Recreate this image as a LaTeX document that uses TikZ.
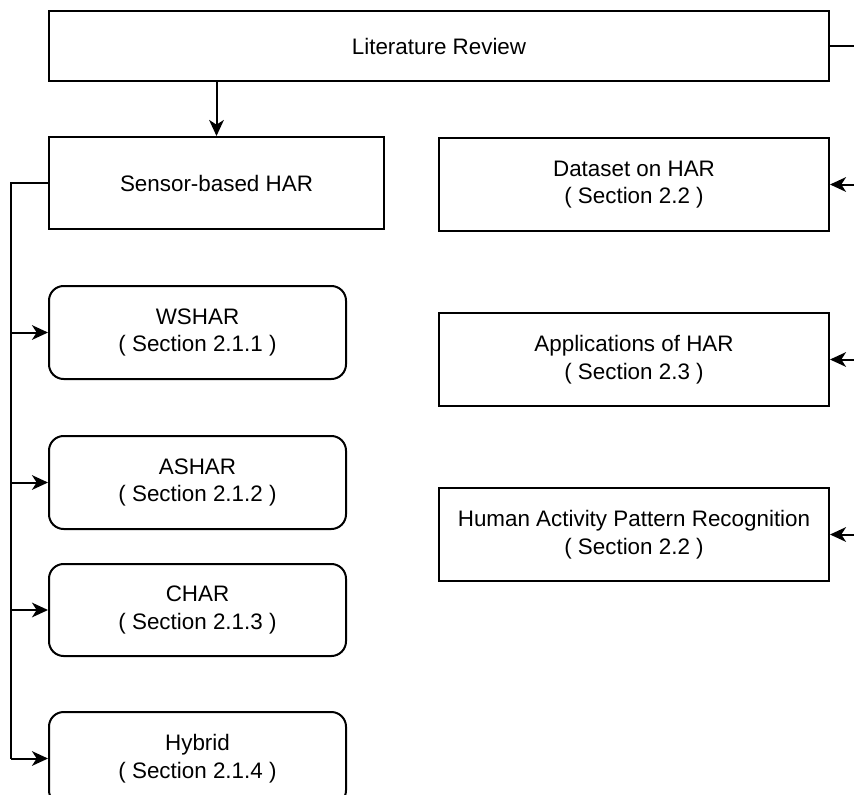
\documentclass[tikz,border=0pt]{standalone}
\usepackage{fontspec}
\setmainfont{Liberation Sans}
\usetikzlibrary{arrows.meta}
\begin{document}
\begin{tikzpicture}[x=0.75pt,y=-0.75pt,
  every node/.style={font=\fontsize{16.8}{20.8}\selectfont, align=center, inner sep=0pt},
  sqbox/.style={draw, line width=1.5pt, fill=white},
  rbox/.style={draw, line width=1.5pt, fill=white, rounded corners=11pt},
  link/.style={line width=1.5pt},
  arr/.style={link, -{Stealth[length=12pt,width=11pt,inset=3.5pt]}}]
\useasboundingbox (0,0) rectangle (854,794);
\clip (0,0) rectangle (854,794);
% top-level box
\node[sqbox, minimum width=780*0.75pt, minimum height=70*0.75pt, anchor=north west] (lit) at (48,10) {Literature Review};
% left column
\node[sqbox, minimum width=335*0.75pt, minimum height=92*0.75pt, anchor=north west] (sens) at (48,136) {Sensor-based HAR};
\node[rbox, minimum width=297*0.75pt, minimum height=93*0.75pt, anchor=north west] (wshar) at (48,285) {WSHAR\\( Section 2.1.1 )};
\node[rbox, minimum width=297*0.75pt, minimum height=93*0.75pt, anchor=north west] (ashar) at (48,435) {ASHAR\\( Section 2.1.2 )};
\node[rbox, minimum width=297*0.75pt, minimum height=92*0.75pt, anchor=north west] (char) at (48,563) {CHAR\\( Section 2.1.3 )};
\node[rbox, minimum width=297*0.75pt, minimum height=93*0.75pt, anchor=north west] (hyb) at (48,711) {Hybrid\\( Section 2.1.4 )};
% right column
\node[sqbox, minimum width=390*0.75pt, minimum height=93*0.75pt, anchor=north west] (data) at (438,137) {Dataset on HAR\\( Section 2.2 )};
\node[sqbox, minimum width=390*0.75pt, minimum height=93*0.75pt, anchor=north west] (app) at (438,312) {Applications of HAR\\( Section 2.3 )};
\node[sqbox, minimum width=390*0.75pt, minimum height=93*0.75pt, anchor=north west] (hapr) at (438,487) {Human Activity Pattern Recognition\\( Section 2.2 )};
% connectors
\coordinate (spine) at (11,182);
\coordinate (rail) at (870,45);
\draw[arr] (lit.south -| sens.north) -- (sens.north);
\draw[link] (sens.west) -- (spine |- sens.west) -- (spine |- hyb.west);
\draw[arr] (spine |- wshar.west) -- (wshar.west);
\draw[arr] (spine |- ashar.west) -- (ashar.west);
\draw[arr] (spine |- char.west) -- (char.west);
\draw[arr] (spine |- hyb.west) -- (hyb.west);
\draw[link] (lit.east) -- (rail |- lit.east);
\draw[arr] (rail |- data.east) -- (data.east);
\draw[arr] (rail |- app.east) -- (app.east);
\draw[arr] (rail |- hapr.east) -- (hapr.east);
\end{tikzpicture}
\end{document}
